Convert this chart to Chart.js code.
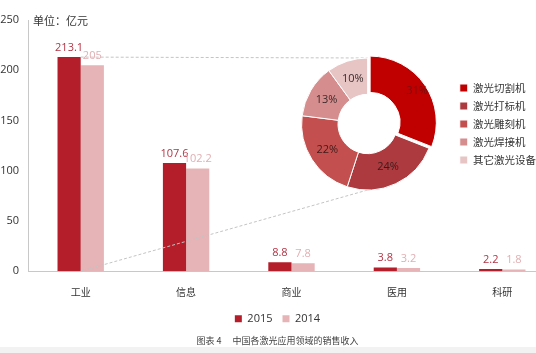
<!DOCTYPE html>
<html><head><meta charset="utf-8">
<script src="https://cdn.jsdelivr.net/npm/chart.js@4/dist/chart.umd.min.js"></script>
<style>
html,body{margin:0;padding:0;background:#fff;overflow:hidden;width:536px;height:353px;}
#wrap{position:relative;width:536px;height:353px;overflow:hidden;}
#bar{position:absolute;left:0;top:0;}
#pie{position:absolute;left:283px;top:44px;}
#unit{position:absolute;left:33px;top:12px;font:11px "Noto Sans CJK SC";color:#333;line-height:16px;}
#band{position:absolute;left:0;top:347px;width:536px;height:6px;background:#f2f2f2;}
</style></head><body>
<div id="wrap">
<canvas id="bar" width="560" height="353"></canvas>
<canvas id="pie" width="263" height="160"></canvas>
<div id="unit">单位：亿元</div>
<div id="band"></div>
</div>
<script>
// ---- data ----
const categories = ['工业', '信息', '商业', '医用', '科研'];
const series2015 = [213.1, 107.6, 8.8, 3.8, 2.2];
const series2014 = [205, 102.2, 7.8, 3.2, 1.8];
const seriesNames = ['2015', '2014'];
const yTicks = [0, 50, 100, 150, 200, 250];
const pieLabels = ['激光切割机', '激光打标机', '激光雕刻机', '激光焊接机', '其它激光设备'];
const pieValues = [31, 24, 22, 13, 10];
const caption = '图表 4　 中国各激光应用领域的销售收入';

const barColors = ['#b41e2a', '#e6b3b6'];
const barLabelColors = ['#b23444', '#e2aeb2'];
const pieColors = ['#c00000', '#ac3a3f', '#c3504f', '#d58d8d', '#e7c5c5'];
const pieTextColors = ['#7a0c0c', '#3b1b1b', '#3b1b1b', '#3b2b2b', '#3b2b2b'];

// ---- doughnut ----
const pieLabelPlugin = {
  id: 'pieLabels',
  afterDatasetsDraw(chart) {
    const ctx = chart.ctx;
    const meta = chart.getDatasetMeta(0);
    meta.data.forEach((arc, i) => {
      const p = arc.tooltipPosition();
      const props = arc.getProps(['startAngle', 'endAngle']);
      const mid = (props.startAngle + props.endAngle) / 2;
      const off = (arc.options.offset || 0) / 2;
      ctx.save();
      ctx.font = '11px "Open Sans"';
      ctx.fillStyle = pieTextColors[i];
      ctx.textAlign = 'center';
      ctx.textBaseline = 'middle';
      ctx.fillText(pieValues[i] + '%', p.x + Math.cos(mid) * off, p.y + Math.sin(mid) * off);
      ctx.restore();
    });
  }
};

const pieChart = new Chart(document.getElementById('pie'), {
  type: 'doughnut',
  data: {
    labels: pieLabels,
    datasets: [{
      data: pieValues,
      backgroundColor: pieColors,
      borderColor: '#ffffff',
      borderWidth: 1,
      offset: pieValues.map((v, i) => i === 0 ? 12 : 0),
      radius: 66,
      cutout: 33
    }]
  },
  options: {
    responsive: false,
    animation: false,
    layout: { padding: 0 },
    plugins: {
      legend: {
        position: 'right',
        labels: {
          boxWidth: 8, boxHeight: 8, padding: 7.5,
          color: '#333',
          font: { size: 10.5, family: '"Noto Sans CJK SC"' }
        }
      },
      tooltip: { enabled: false }
    }
  },
  plugins: [pieLabelPlugin]
});

// ---- bar chart ----
const barLabelPlugin = {
  id: 'barLabels',
  afterDatasetsDraw(chart) {
    const ctx = chart.ctx;
    chart.data.datasets.forEach((ds, i) => {
      chart.getDatasetMeta(i).data.forEach((el, j) => {
        ctx.save();
        ctx.font = '11px "Open Sans"';
        ctx.fillStyle = barLabelColors[i];
        ctx.textAlign = 'center';
        ctx.textBaseline = 'bottom';
        ctx.fillText(String(ds.data[j]), el.x, el.y - 4);
        ctx.restore();
      });
    });
  }
};

const connectorPlugin = {
  id: 'connectors',
  afterDatasetsDraw(chart) {
    const ctx = chart.ctx;
    const bar = chart.getDatasetMeta(0).data[0];
    const yZero = chart.scales.y.getPixelForValue(0);
    const pieCanvas = document.getElementById('pie');
    const barCanvas = chart.canvas;
    const arc = pieChart.getDatasetMeta(0).data[1];
    const dx = pieCanvas.offsetLeft - barCanvas.offsetLeft;
    const dy = pieCanvas.offsetTop - barCanvas.offsetTop;
    const cx = arc.x + dx, cy = arc.y + dy, R = arc.outerRadius;
    const x0 = bar.x + bar.width / 2;
    ctx.save();
    ctx.strokeStyle = '#c4c4c4';
    ctx.lineWidth = 1;
    ctx.setLineDash([3, 2]);
    ctx.beginPath();
    ctx.moveTo(x0, bar.y);
    ctx.lineTo(cx, cy - R);
    ctx.moveTo(x0, yZero);
    ctx.lineTo(cx, cy + R);
    ctx.stroke();
    ctx.restore();
  }
};

new Chart(document.getElementById('bar'), {
  type: 'bar',
  data: {
    labels: categories,
    datasets: [
      { label: seriesNames[0], data: series2015, backgroundColor: barColors[0], categoryPercentage: 0.44, barPercentage: 1.0 },
      { label: seriesNames[1], data: series2014, backgroundColor: barColors[1], categoryPercentage: 0.44, barPercentage: 1.0 }
    ]
  },
  options: {
    responsive: false,
    animation: false,
    layout: { padding: { top: 20, right: 5, left: 0, bottom: 0 } },
    plugins: {
      legend: {
        position: 'bottom',
        labels: {
          boxWidth: 7, boxHeight: 7, padding: 10,
          color: '#333',
          font: { size: 11, family: '"Open Sans"' }
        }
      },
      title: {
        display: true,
        position: 'bottom',
        text: caption,
        color: '#444',
        font: { size: 9, family: '"Noto Sans CJK SC"', weight: 'normal' },
        padding: { top: 1, bottom: 7 }
      },
      tooltip: { enabled: false }
    },
    scales: {
      x: {
        afterFit(s) { s.height = 32; },
        grid: { display: false, drawTicks: false },
        border: { color: '#c8c8c8' },
        ticks: { padding: 15, color: '#333', font: { size: 10, family: '"Noto Sans CJK SC"' } }
      },
      y: {
        min: 0, max: 250,
        afterBuildTicks(s) { s.ticks = yTicks.map(v => ({ value: v })); },
        afterFit(s) { s.width = 28; },
        grid: { display: false, drawTicks: false },
        border: { color: '#c8c8c8' },
        ticks: { padding: 9, color: '#333', font: { size: 11, family: '"Open Sans"' } }
      }
    }
  },
  plugins: [barLabelPlugin, connectorPlugin]
});
</script>
</body></html>
